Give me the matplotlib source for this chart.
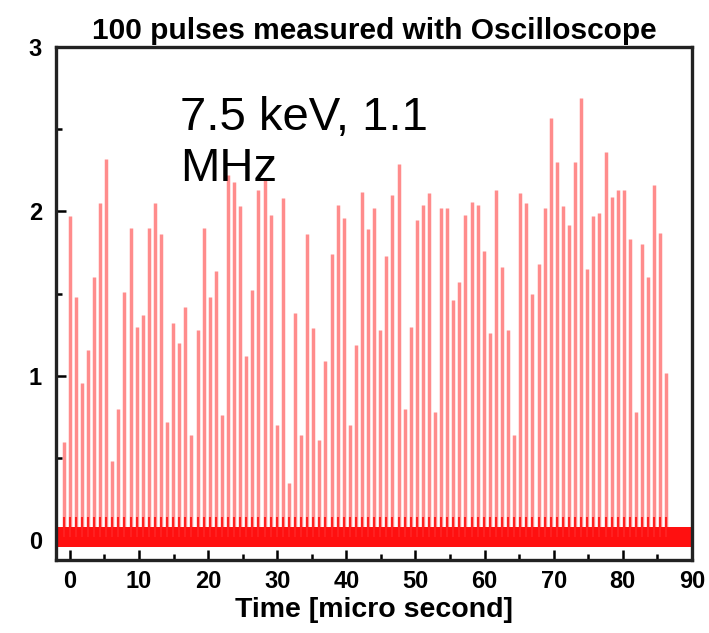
import matplotlib.pyplot as plt
import numpy as np
from matplotlib.ticker import MultipleLocator

# pulse train
first_pulse_us = -0.91
pulse_period_us = 0.881   # ~1.1 MHz repetition
pulse_heights = [
    0.60, 1.97, 1.48, 0.96, 1.16, 1.60, 2.05, 2.32, 0.48, 0.80,
    1.51, 1.90, 1.30, 1.37, 1.90, 2.05, 1.86, 0.72, 1.32, 1.20,
    1.42, 0.64, 1.28, 1.90, 1.48, 1.64, 0.76, 2.22, 2.18, 2.03,
    1.12, 1.52, 2.13, 2.20, 1.98, 0.70, 2.08, 0.35, 1.38, 0.64,
    1.86, 1.29, 0.61, 1.09, 1.74, 2.04, 1.96, 0.70, 1.19, 2.12,
    1.89, 2.02, 1.28, 1.73, 2.10, 2.29, 0.80, 1.30, 1.95, 2.04,
    2.11, 0.78, 2.02, 2.02, 1.46, 1.57, 1.98, 2.06, 2.04, 1.76,
    1.26, 2.13, 1.66, 1.28, 0.64, 2.11, 2.05, 1.50, 1.68, 2.02,
    2.57, 2.30, 2.03, 1.92, 2.30, 2.69, 1.65, 1.97, 1.99, 2.36,
    2.09, 2.13, 2.13, 1.83, 0.78, 1.80, 1.60, 2.16, 1.87, 1.02,
]
baseline_level = 0.02
baseline_half_width = 0.06
base_spike = 0.14

x_ticks = [0, 10, 20, 30, 40, 50, 60, 70, 80, 90]
y_ticks = [0, 1, 2, 3]

plt.rcParams['font.family'] = ['Liberation Sans', 'DejaVu Sans']

t = first_pulse_us + pulse_period_us * np.arange(len(pulse_heights))

fig = plt.figure(figsize=(7.09, 6.33), dpi=100)
ax = fig.add_axes([0.079, 0.115, 0.897, 0.811])

# noisy baseline drawn as a band
ax.fill_between([-2, 90], baseline_level - baseline_half_width,
                baseline_level + baseline_half_width, color='#ff1010', lw=0, zorder=2)
# the pulses
ax.vlines(t, baseline_level, pulse_heights, colors='#ff8c8c', lw=2.5, zorder=1)
ax.vlines(t, baseline_level, base_spike, colors='#ff2020', lw=1.5, zorder=2)

ax.set_xlim(-2, 90)
ax.set_ylim(-0.12, 3)
ax.set_xticks(x_ticks)
ax.set_yticks(y_ticks)
ax.xaxis.set_minor_locator(MultipleLocator(5))
ax.yaxis.set_minor_locator(MultipleLocator(0.5))
ax.tick_params(which='both', direction='in', top=False, right=False, width=1.8,
               labelsize=17)
ax.tick_params(which='major', length=7)
ax.tick_params(axis='x', which='major', pad=7)
ax.tick_params(axis='y', which='major', pad=10)
ax.tick_params(which='minor', length=4)
for lbl in ax.get_xticklabels() + ax.get_yticklabels():
    lbl.set_fontweight('bold')
for s in ax.spines.values():
    s.set_linewidth(2.4)
    s.set_color('#222222')

ax.set_xlabel('Time [micro second]', fontsize=20.5, fontweight='bold', labelpad=3)
ax.set_title('100 pulses measured with Oscilloscope', fontsize=21.5,
             fontweight='bold', pad=6)
ax.text(0.195, 0.905, '7.5 keV, 1.1\nMHz', transform=ax.transAxes, fontsize=34,
        va='top', ha='left', linespacing=1.22)

fig.savefig('out.png', dpi=100)
